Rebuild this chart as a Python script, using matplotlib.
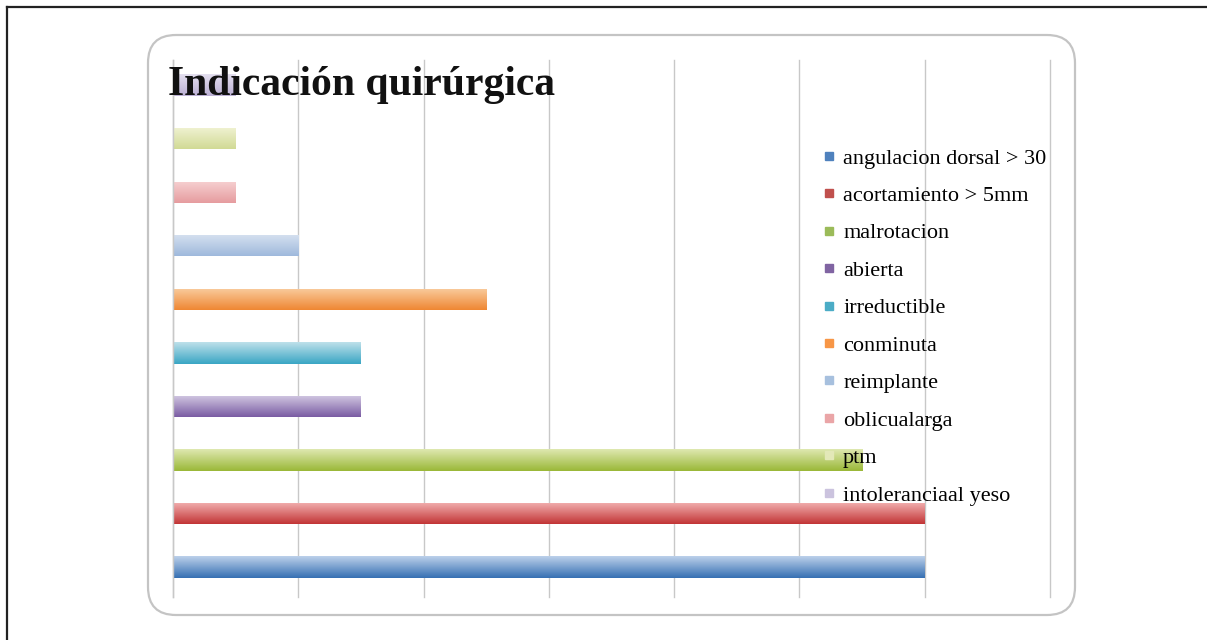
from __future__ import annotations

import matplotlib

matplotlib.use("Agg")

import matplotlib.pyplot as plt
import numpy as np
from matplotlib.colors import LinearSegmentedColormap
from matplotlib.lines import Line2D
from matplotlib.patches import FancyBboxPatch

TITLE = "Indicación quirúrgica"
CATEGORIES = [
    "angulacion dorsal > 30",
    "acortamiento > 5mm",
    "malrotacion",
    "abierta",
    "irreductible",
    "conminuta",
    "reimplante",
    "oblicualarga",
    "ptm",
    "intoleranciaal yeso",
]
VALUES = [12, 12, 11, 3, 3, 5, 2, 1, 1, 1]
X_MAX = 14
X_STEP = 2

# (top light, bottom dark) per bar
COLORS_LIGHT = ["#bcd0ea", "#f2b0b0", "#dfe8b0", "#d2c8e2", "#bde0ea", "#f9cc9e", "#d6e1f0", "#f6d0d1", "#f0f2d2", "#e4dfef"]
COLORS_DARK = ["#3670b3", "#c23536", "#9ab838", "#7a5ca3", "#3aa6c4", "#ef8733", "#9fb9dc", "#e69c9f", "#d1da95", "#bbb0d4"]
LEGEND_COLORS = ["#4f81bd", "#c0504d", "#9bbb59", "#8064a2", "#4bacc6", "#f79646", "#a7c0de", "#eaa5a7", "#e3e8b8", "#cbc3de"]

GRID = "#c8c8c8"
SERIF = ["Liberation Serif", "DejaVu Serif"]


def main() -> None:
    fig = plt.figure(figsize=(12.07, 6.4), dpi=100)
    fig.patch.set_facecolor("white")

    # outer frame (top + left only)
    fig.add_artist(Line2D([7 / 1207, 7 / 1207], [0, 1 - 7 / 640], transform=fig.transFigure, color="#222222", lw=1.6, zorder=-2))
    fig.add_artist(Line2D([7 / 1207, 1], [1 - 7 / 640, 1 - 7 / 640], transform=fig.transFigure, color="#222222", lw=1.6, zorder=-2))

    # rounded chart box
    box = FancyBboxPatch((1.48, 0.25), 9.27, 5.80, boxstyle="round,pad=0,rounding_size=0.28",
                         transform=fig.dpi_scale_trans, facecolor="white", edgecolor="#c4c4c4", lw=1.6, zorder=-1)
    fig.add_artist(box)

    ax = fig.add_axes([173 / 1207, 1 - 597 / 640, (1050 - 173) / 1207, (597 - 60) / 640])
    ax.set_facecolor("none")
    y = np.arange(len(CATEGORIES))
    ax.set_xticks(np.arange(0, X_MAX + 1, X_STEP))
    ax.set_yticks([])
    ax.tick_params(axis="x", length=0, labelbottom=False)
    ax.grid(axis="x", color=GRID, lw=1.0)
    ax.set_axisbelow(True)
    for s in ["top", "right", "bottom"]:
        ax.spines[s].set_visible(False)
    ax.spines["left"].set_color(GRID)
    ax.spines["left"].set_linewidth(1.0)

    bars = ax.barh(y, VALUES, height=0.4, color="none", edgecolor="none")
    grad = np.linspace(0, 1, 64).reshape(-1, 1)
    for bar, light, dark in zip(bars, COLORS_LIGHT, COLORS_DARK):
        cmap = LinearSegmentedColormap.from_list("g", [light, dark])
        x0, y0 = bar.get_x(), bar.get_y()
        w, h = bar.get_width(), bar.get_height()
        im = ax.imshow(grad, cmap=cmap, aspect="auto", extent=(x0, x0 + w, y0, y0 + h), origin="upper", zorder=2)
        im.set_clip_path(bar)
    ax.set_xlim(0, X_MAX)
    ax.set_ylim(-0.56, len(CATEGORIES) - 0.53)
    for gl in ax.get_xgridlines():
        gl.set_clip_on(False)

    handles = [Line2D([], [], marker="s", ls="none", markersize=6, color=c) for c in LEGEND_COLORS]
    fig.legend(handles, CATEGORIES, loc="upper left", bbox_to_anchor=(822 / 1207, 1 - 148 / 640),
               frameon=False, prop={"family": SERIF, "size": 16}, handlelength=0.6, handletextpad=0.35,
               labelspacing=0.76, borderaxespad=0, borderpad=0)

    fig.text(168 / 1207, 1 - 95 / 640, TITLE, fontsize=30, fontweight="bold", family=SERIF,
             color="#111111", va="baseline", ha="left")

    fig.savefig("out.png", dpi=100, facecolor="white")
    plt.close(fig)


if __name__ == "__main__":
    main()
